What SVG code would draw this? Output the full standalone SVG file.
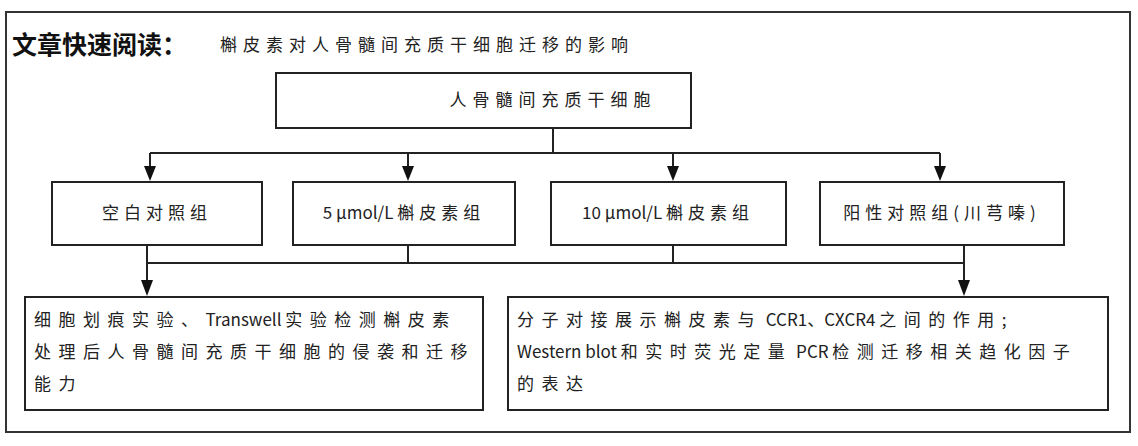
<svg xmlns="http://www.w3.org/2000/svg" width="1138" height="446" viewBox="0 0 1138 446">
<style>
.b{fill:#fff;stroke:#222;stroke-width:2}
.t{font-family:"Noto Sans CJK SC","Liberation Sans",sans-serif;font-size:17px;fill:#222}
.s{letter-spacing:5px}
.w{letter-spacing:7.5px}
.c{stroke:#222;stroke-width:2;fill:none}
.h{fill:#111}
</style>
<rect width="1138" height="446" fill="#fff"/>
<rect x="6" y="12" width="1124" height="420" fill="none" stroke="#333" stroke-width="2"/>
<text x="12" y="54" font-family="Noto Sans CJK SC,sans-serif" font-size="25" font-weight="bold" fill="#111">文章快速阅读：</text>
<text x="220" y="51" class="t" style="letter-spacing:6px">槲皮素对人骨髓间充质干细胞迁移的影响</text>
<g id="connectors">
<path class="c" d="M553,128V153M150,153H940M150,153V168M408,153V168M673,153V168M940,153V168M147,245V263H964M408,245V263M673,245V263M964,245V263M147,263V282M964,263V282"/>
<path class="h" d="M144,166h12l-6,15zM402,166h12l-6,15zM667,166h12l-6,15zM934,166h12l-6,15zM141,280h12l-6,16zM958,280h12l-6,16z"/>
</g>
<g id="n0"><rect class="b" x="276" y="73" width="415" height="55"/><text class="t" style="letter-spacing:6px" x="553" y="106" text-anchor="middle">人骨髓间充质干细胞</text></g>
<g id="n1"><rect class="b" x="52" y="182" width="210" height="63"/><text class="t s" x="157" y="219" text-anchor="middle">空白对照组</text></g>
<g id="n2"><rect class="b" x="293" y="182" width="222" height="63"/><text class="t" x="404" y="219" text-anchor="middle">5 μmol/L <tspan class="s">槲皮素组</tspan></text></g>
<g id="n3"><rect class="b" x="551" y="182" width="235" height="63"/><text class="t" x="668" y="219" text-anchor="middle">10 μmol/L <tspan class="s">槲皮素组</tspan></text></g>
<g id="n4"><rect class="b" x="820" y="182" width="244" height="63"/><text class="t s" x="942" y="219" text-anchor="middle">阳性对照组(川芎嗪)</text></g>
<g id="n5"><rect class="b" x="25" y="297" width="458" height="113"/>
<text class="t" x="34" y="326"><tspan class="w">细胞划痕实验、</tspan>Transwell <tspan class="w">实验检测槲皮素</tspan></text>
<text class="t w" x="34" y="358">处理后人骨髓间充质干细胞的侵袭和迁移</text>
<text class="t w" x="34" y="390">能力</text></g>
<g id="n6"><rect class="b" x="508" y="297" width="600" height="113"/>
<text class="t" x="517" y="326"><tspan class="w">分子对接展示槲皮素与</tspan> CCR1、CXCR4 <tspan class="w">之间的作用;</tspan></text>
<text class="t" x="517" y="358">Western blot <tspan class="w">和实时荧光定量</tspan> PCR <tspan class="w">检测迁移相关趋化因子</tspan></text>
<text class="t w" x="517" y="390">的表达</text></g>
</svg>
